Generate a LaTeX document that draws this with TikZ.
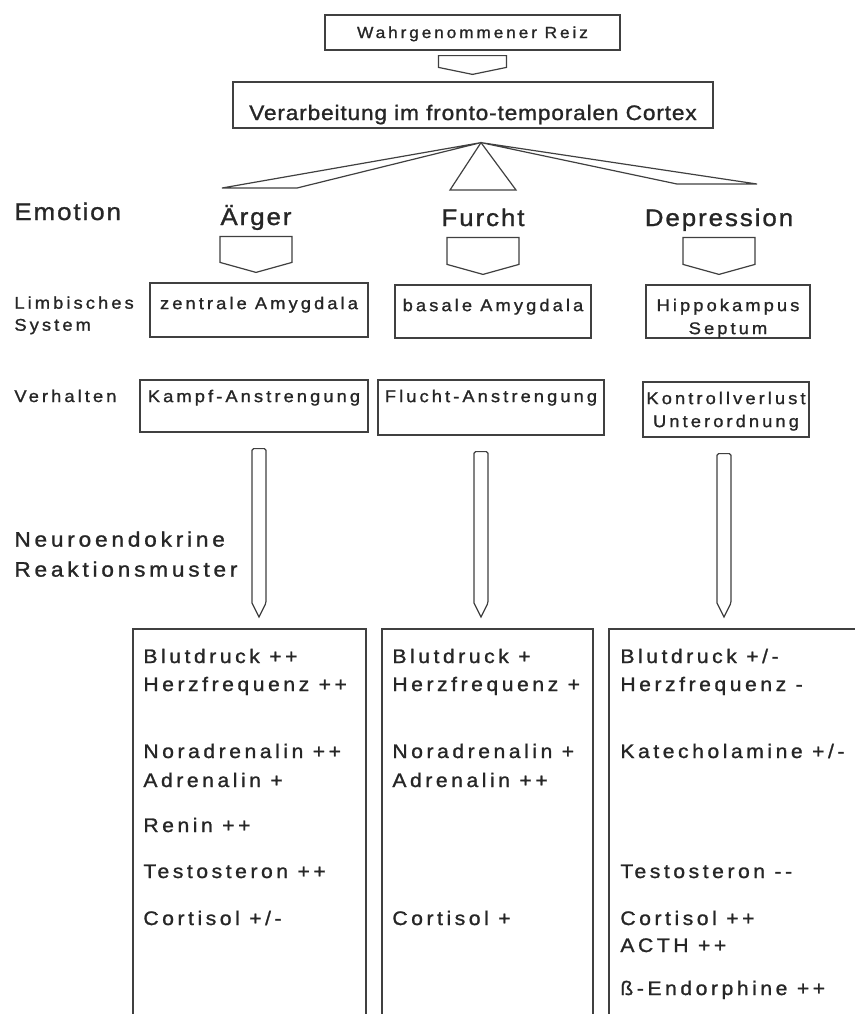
\documentclass[tikz,border=0pt]{standalone}
\usepackage{fontspec}
\setmainfont{Liberation Sans}
\newfontfamily\weit{Liberation Sans}[LetterSpace=18, FakeStretch=1.08, FakeBold=1.2]
\newfontfamily\mittel{Liberation Sans}[LetterSpace=8, FakeStretch=1.08, FakeBold=1.2]
\newfontfamily\eng{Liberation Sans}[LetterSpace=4, FakeStretch=1.08, FakeBold=1.2]
\usetikzlibrary{calc}

% Blockpfeil (Fuenfeck) zwischen zwei Knoten
\newcommand{\blockpfeil}[4]{%
  \draw[pfeil] let \p1=(#1.south), \p2=(#2.north) in
    (\x1-#3,\y1-2.5pt) -- (\x1+#3,\y1-2.5pt) -- (\x1+#3,\y2+2*#4)
    -- (\x1,\y2+#4) -- (\x1-#3,\y2+2*#4) -- cycle;}
% langer schmaler Pfeil
\newcommand{\langpfeil}[2]{%
  \draw[pfeil, rounded corners=0.8pt] let \p1=(#1.south), \p2=(#2) in
    (\x2-3.5pt,\y2+13pt) -- (\x2-3.5pt,\y1-8pt) -- (\x2+3.5pt,\y1-8pt)
    -- (\x2+3.5pt,\y2+13pt) [sharp corners] -- (\x2,\y2+6pt) -- cycle;}

\begin{document}
\begin{tikzpicture}[x=0.5pt,y=-0.5pt,
  linie/.style={draw=black!75, line width=0.6pt},
  kasten/.style={linie, inner sep=0pt, text=black!85},
  pfeil/.style={linie, fill=white},
  boxtext/.style={anchor=north, inner sep=0pt, align=center, text=black!85,
    font=\weit\fontsize{8.5}{11.5}\selectfont},
  ebene/.style={inner sep=0pt, text=black!85, align=left,
    font=\weit\fontsize{8.5}{11}\selectfont},
  gefuehl/.style={anchor=base, inner sep=0pt, text depth=3pt, text=black!85,
    font=\mittel\fontsize{12}{14}\selectfont},
  eintrag/.style={anchor=base west, inner sep=0pt, text=black!85,
    font=\weit\fontsize{9.8}{12}\selectfont}]
\useasboundingbox (0,0) rectangle (855,1014);

\node[kasten, minimum width=147.5pt, text height=11.5pt, text depth=6pt,
  font=\weit\fontsize{8}{10}\selectfont] (reiz) at (472.5,32.5) {Wahrgenommener Reiz};
\node[kasten, minimum width=240pt, text height=19pt, text depth=4pt,
  font=\eng\fontsize{10.5}{13}\selectfont] (cortex) at (473,105) {Verarbeitung im fronto-temporalen Cortex};
\blockpfeil{reiz}{cortex}{17pt}{3.5pt}

% Faecher
\coordinate (apex) at ($(cortex.south)+(8,14)$);
\draw[linie] (apex) -- (222,188) -- (297,188) -- cycle;
\draw[linie] (apex) -- (450,190) -- (516,190) -- cycle;
\draw[linie] (apex) -- (757,184) -- (677,184) -- cycle;

% Ebenen links
\node[gefuehl, anchor=base west] (emotion) at (14,220) {Emotion};
\node[ebene, anchor=north west] (limbisch) at (14,296) {Limbisches\\System};
\node[ebene, anchor=base west] (verhalten) at (14,402) {Verhalten};
\node[ebene, anchor=north west, font=\weit\fontsize{10.5}{15}\selectfont] (neuro) at (14,531) {Neuroendokrine\\Reaktionsmuster};

% Emotionen
\node[gefuehl] (aerger) at (256,225) {Ärger};
\node[gefuehl] (furcht) at (483,226) {Furcht};
\node[gefuehl] (depression) at (719,226) {Depression};

% limbisches System
\node[kasten, minimum width=109pt, minimum height=27pt] (zentral) at (259,310) {};
\node[kasten, minimum width=98pt, minimum height=26.5pt] (basal) at (493,311.5) {};
\node[kasten, minimum width=82pt, minimum height=26.5pt] (hippo) at (728,311.5) {};
\node[boxtext] (zentral-t) at ($(zentral.north)+(0,14)$) {zentrale Amygdala};
\node[boxtext] (basal-t) at ($(basal.north)+(0,14)$) {basale Amygdala};
\node[boxtext] (hippo-t) at ($(hippo.north)+(0,14)$) {Hippokampus\\Septum};

\blockpfeil{aerger}{zentral}{18pt}{5pt}
\blockpfeil{furcht}{basal}{18pt}{5pt}
\blockpfeil{depression}{hippo}{18pt}{5pt}

% Verhalten
\node[kasten, minimum width=114pt, minimum height=26pt] (kampf) at (254,406) {};
\node[kasten, minimum width=113pt, minimum height=27.5pt] (flucht) at (491,407.5) {};
\node[kasten, minimum width=83pt, minimum height=27.5pt] (kontrolle) at (726,409.5) {};
\node[boxtext] (kampf-t) at ($(kampf.north)+(0,10)$) {Kampf-Anstrengung};
\node[boxtext] (flucht-t) at ($(flucht.north)+(0,10)$) {Flucht-Anstrengung};
\node[boxtext] (kontrolle-t) at ($(kontrolle.north)+(0,10)$) {Kontrollverlust\\Unterordnung};

% Reaktionsmuster
\draw[linie] (133,1014) |- (366,629) -- (366,1014);
\draw[linie] (382,1014) |- (593,629) -- (593,1014);
\draw[linie] (609,1014) |- (855,629);
\coordinate (m1) at (259,629);
\coordinate (m2) at (481,629);
\coordinate (m3) at (724,629);
\langpfeil{kampf}{m1}
\langpfeil{flucht}{m2}
\langpfeil{kontrolle}{m3}

\foreach \y/\t [count=\i] in {663/{Blutdruck ++}, 691/{Herzfrequenz ++},
    758/{Noradrenalin ++}, 787/{Adrenalin +}, 832/{Renin ++},
    878/{Testosteron ++}, 925/{Cortisol +/-}}
  \node[eintrag] (a\i) at (143,\y) {\t};
\foreach \y/\t [count=\i] in {663/{Blutdruck +}, 691/{Herzfrequenz +},
    758/{Noradrenalin +}, 787/{Adrenalin ++}, 925/{Cortisol +}}
  \node[eintrag] (b\i) at (392,\y) {\t};
\foreach \y/\t [count=\i] in {663/{Blutdruck +/-}, 691/{Herzfrequenz -},
    758/{Katecholamine +/-}, 878/{Testosteron -{}-}, 925/{Cortisol ++},
    952/{ACTH ++}, 995/{ß-Endorphine ++}}
  \node[eintrag] (c\i) at (620,\y) {\t};
\end{tikzpicture}
\end{document}
